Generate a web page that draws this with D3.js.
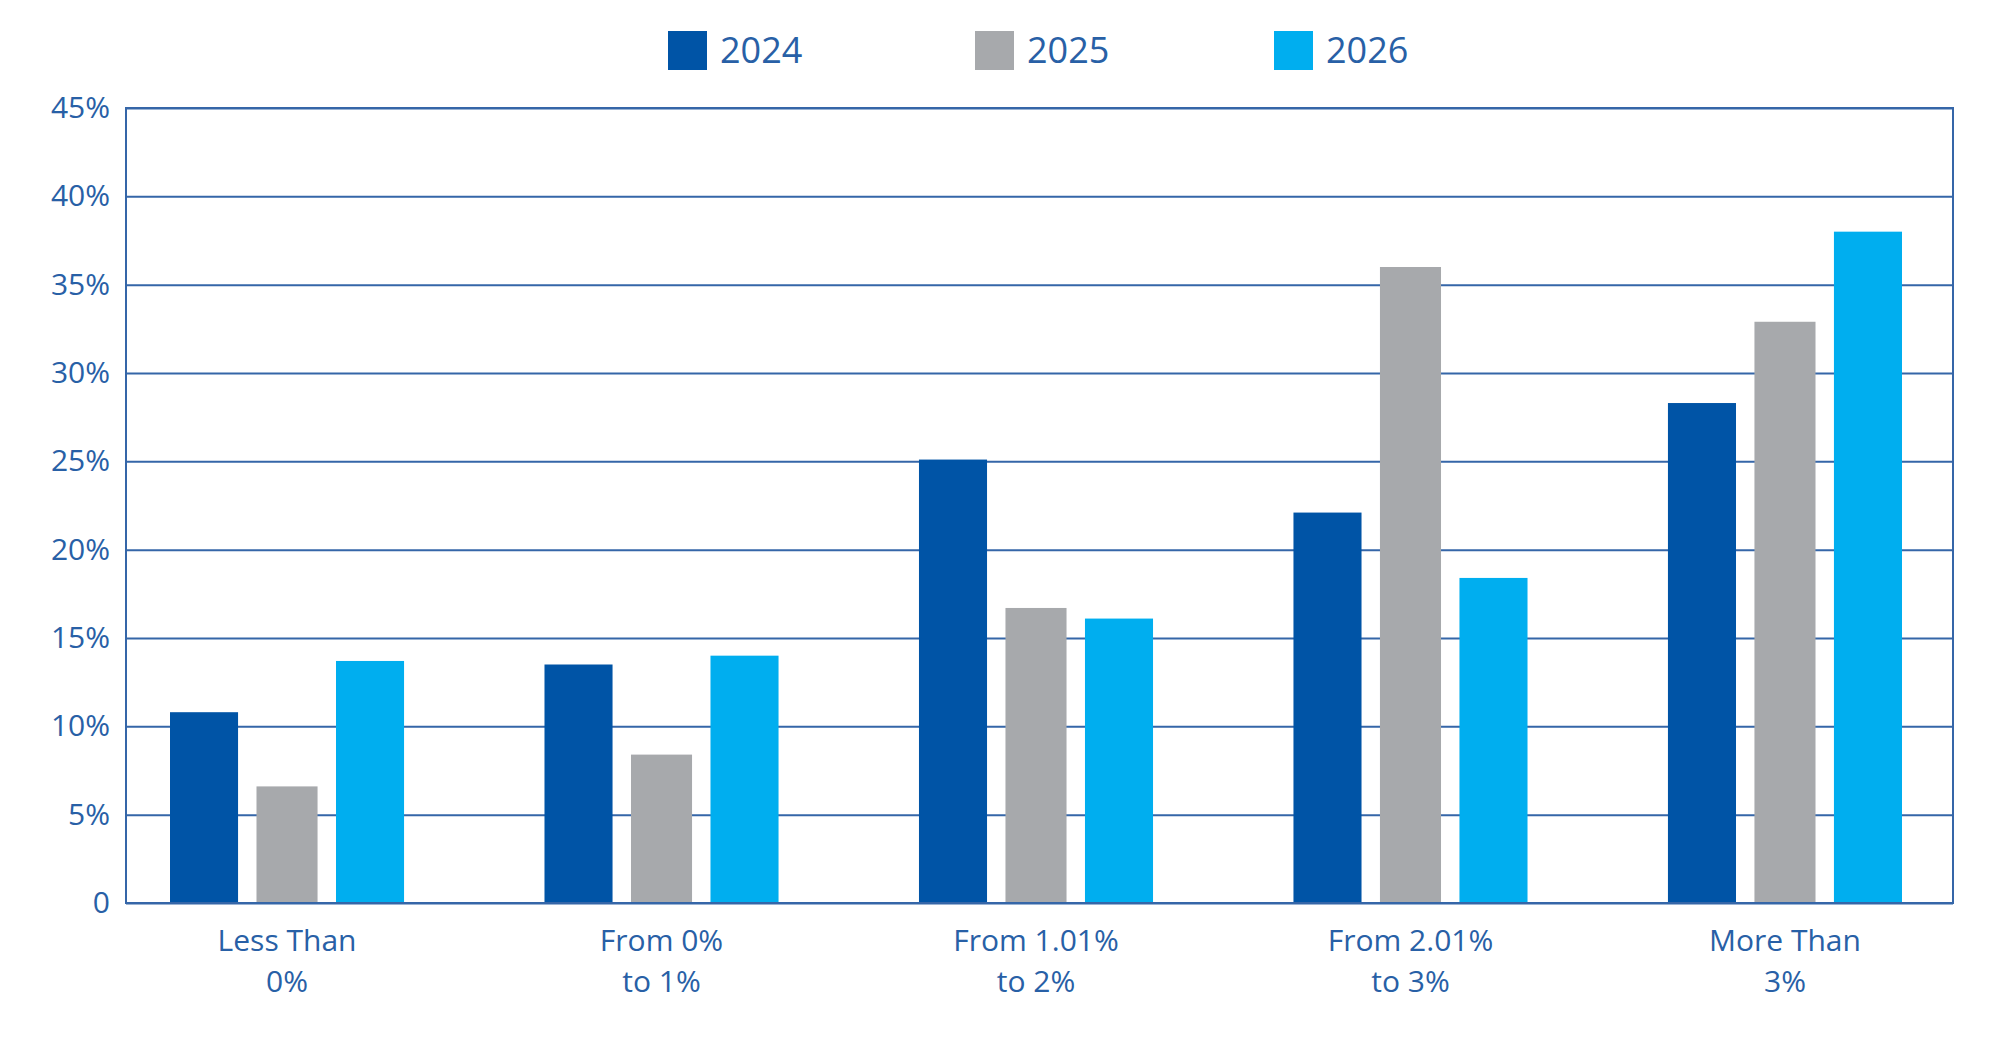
<!DOCTYPE html>
<html>
<head>
<meta charset="utf-8">
<script src="https://cdn.jsdelivr.net/npm/d3@7"></script>
<style>
  body { margin: 0; background: #fff; }
  text { font-family: "Open Sans", sans-serif; fill: #2860a6; }
</style>
</head>
<body>
<svg width="2000" height="1047"></svg>
<script>
// data
var categories = ["Less Than|0%", "From 0%|to 1%", "From 1.01%|to 2%", "From 2.01%|to 3%", "More Than|3%"];
var years = ["2024", "2025", "2026"];
var v2024 = [10.8, 13.5, 25.1, 22.1, 28.3];
var v2025 = [6.6, 8.4, 16.7, 36.0, 32.9];
var v2026 = [13.7, 14.0, 16.1, 18.4, 38.0];
var yTicks = [0, 5, 10, 15, 20, 25, 30, 35, 40, 45];

var series = [v2024, v2025, v2026];
var colors = {"2024": "#0054a6", "2025": "#a7a9ac", "2026": "#00aeef"};
var shrink = {"2024": 0, "2025": 7, "2026": 0};   // the grey bar is a bit narrower

var svg = d3.select("svg");
var margin = {left: 126, top: 108, right: 47, bottom: 144};
var W = 2000 - margin.left - margin.right;
var H = 1047 - margin.top - margin.bottom;
var lineColor = "#3566a8";

var g = svg.append("g").attr("transform", "translate(" + margin.left + "," + margin.top + ")");

var y = d3.scaleLinear().domain([0, 45]).range([H, 0]);
var x0 = d3.scaleBand().domain(categories).range([44, 1776]).paddingInner(0.375);
var x1 = d3.scaleBand().domain(years).range([0, x0.bandwidth()]).paddingInner(0.18);

// gridlines + y labels
var yAxis = g.append("g").call(d3.axisLeft(y).tickValues(yTicks).tickSize(-W).tickPadding(16)
    .tickFormat(function(d){ return d == 0 ? "0" : d + "%"; }));
yAxis.select(".domain").remove();
yAxis.selectAll("line").attr("stroke", lineColor).attr("stroke-width", 2);
yAxis.selectAll("text").attr("font-size", 30).style("fill", "#2860a6")
    .attr("font-family", "Open Sans, sans-serif");

// bars
var rows = categories.map(function(c, i){
    return years.map(function(yr, j){ return {cat: c, year: yr, value: series[j][i]}; });
});
g.selectAll(".grp").data(rows).enter().append("g")
    .attr("class", "grp")
    .attr("transform", function(d){ return "translate(" + x0(d[0].cat) + ",0)"; })
  .selectAll("rect").data(function(d){ return d; }).enter().append("rect")
    .attr("x", function(d){ return x1(d.year) + shrink[d.year] / 2; })
    .attr("width", function(d){ return x1.bandwidth() - shrink[d.year]; })
    .attr("y", function(d){ return y(d.value); })
    .attr("height", function(d){ return y(0) - y(d.value) - 1; })
    .attr("fill", function(d){ return colors[d.year]; });

// frame
g.append("rect").attr("x", 0).attr("y", 0).attr("width", W).attr("height", H)
    .attr("fill", "none").attr("stroke", lineColor).attr("stroke-width", 2);

// x labels, two lines each
var labels = g.selectAll(".xl").data(categories).enter().append("g")
    .attr("class", "xl")
    .attr("transform", function(d){ return "translate(" + (x0(d) + x0.bandwidth() / 2) + "," + (H + 48) + ")"; });
labels.each(function(d){
    var parts = d.split("|");
    var t = d3.select(this);
    t.append("text").attr("text-anchor", "middle").attr("font-size", 30).attr("y", 0).text(parts[0]);
    t.append("text").attr("text-anchor", "middle").attr("font-size", 30).attr("y", 41).text(parts[1]);
});

// legend
var legend = svg.append("g").attr("transform", "translate(668,31)");
var items = legend.selectAll(".li").data(years).enter().append("g")
    .attr("transform", function(d, i){ return "translate(" + [0, 307, 606][i] + ",0)"; });
items.append("rect").attr("width", 39).attr("height", 39)
    .attr("fill", function(d){ return colors[d]; });
items.append("text").attr("x", 52).attr("y", 32).attr("font-size", 36).text(function(d){ return d; });
</script>
</body>
</html>
